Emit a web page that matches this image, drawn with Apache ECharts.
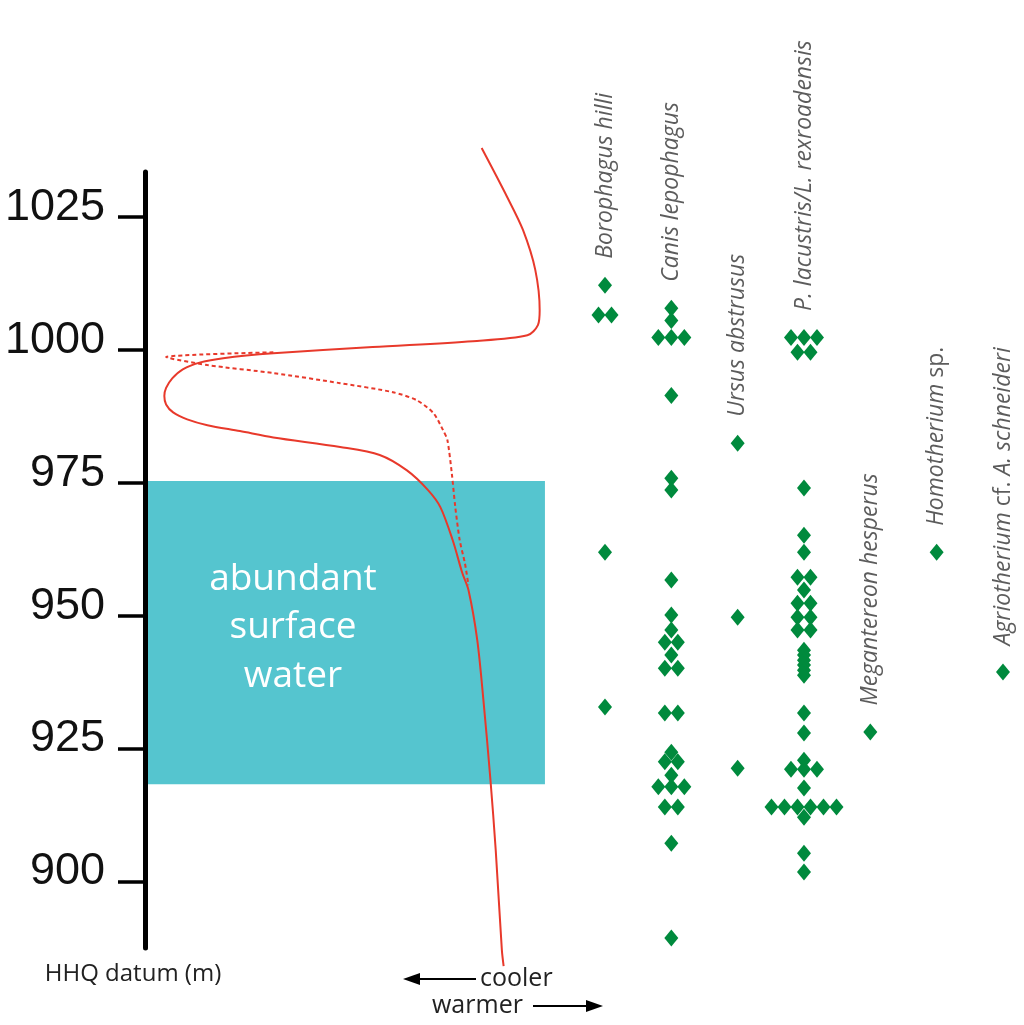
<!DOCTYPE html>
<html><head><meta charset="utf-8">
<script src="https://cdn.jsdelivr.net/npm/echarts@6/dist/echarts.min.js"></script>
<style>html,body{margin:0;padding:0;background:#fff}#c{width:1024px;height:1025px}</style>
</head><body><div id="c"></div>
<script>
// ---------- data ----------
const speciesNames = [
  'Borophagus hilli',
  'Canis lepophagus',
  'Ursus abstrusus',
  'P. lacustris/L. rexroadensis',
  'Megantereon hesperus',
  'Homotherium sp.',
  'Agriotherium cf. A. schneideri'
];
// specimen elevations (m, HHQ datum); repeated values = specimens at same level
const borophagusHilli = [1012.2, 1006.6, 1006.6, 962.0, 932.9];
const canisLepophagus = [1007.9, 1005.6, 1002.4, 1002.4, 1002.4, 991.5, 975.9, 973.7, 956.8, 950.2, 947.4,
  945.1, 945.1, 942.7, 940.2, 940.2, 931.8, 931.8, 924.4, 922.6, 922.6, 920.1, 917.9, 917.9, 917.9,
  914.1, 914.1, 907.3, 889.5];
const ursusAbstrusus = [982.5, 949.8, 921.4];
const pLacustris = [1002.4, 1002.4, 1002.4, 999.6, 999.6, 974.1, 965.2, 962.0, 957.3, 957.3, 954.9,
  952.4, 952.4, 949.8, 949.8, 947.4, 947.4, 943.6, 942.7, 941.7, 940.8, 939.8, 938.9, 931.8, 928.0,
  922.9, 921.2, 921.2, 921.2, 917.7, 914.1, 914.1, 914.1, 914.1, 914.1, 914.1, 912.2, 905.4, 901.9];
const megantereonHesperus = [928.2];
const homotheriumSp = [962.0];
const agriotherium = [939.5];
const speciesElevations = [borophagusHilli, canisLepophagus, ursusAbstrusus, pLacustris,
  megantereonHesperus, homotheriumSp, agriotherium];

const elevationTicks = [900, 925, 950, 975, 1000, 1025];

// relative temperature curve (arbitrary units, larger = warmer) vs elevation
const tempSolid = [[38.3,1038.0],[41.2,1028.8],[43.0,1022.6],[44.4,1015.1],[44.9,1007.5],[44.7,1004.7],
  [43.5,1002.8],[37.3,1001.7],[25.9,1000.6],[14.6,999.4],[8.9,998.5],[6.3,997.7],[4.3,996.4],[3.1,994.7],
  [2.4,992.9],[2.2,991.4],[2.4,989.8],[3.2,988.3],[4.8,987.0],[7.1,985.9],[10.8,984.8],[14.6,983.6],
  [22.2,981.8],[26.7,980.3],[29.8,977.4],[32.2,973.7],[33.6,970.5],
  [35.0,964.3],[36.1,958.1],[36.8,954.9],[37.8,945.5],[38.5,934.2],[39.3,919.2],[39.9,906.0],[40.6,887.2],
  [40.8,884.2]];
const tempDashed = [[14.6,999.6],[2.4,998.7],[7.1,997.2],[14.6,995.7],[22.2,993.8],[28.2,992.1],
  [30.9,990.6],[32.8,988.2],[33.9,985.0],[34.4,983.1],[34.9,976.9],[35.3,970.5],[35.8,964.3],
  [36.4,959.9],[36.8,955.8]];

// abundant surface water interval
const waterTop = 975.4, waterBottom = 918.4, waterWarmLimit = 45.5;

// ---------- build ----------
const STEP = 0.196;
const GREEN = '#008a3d', RED = '#e8392b';
const scatterData = [];
speciesElevations.forEach((elevs, col) => {
  const counts = {}, seen = {};
  elevs.forEach(e => counts[e] = (counts[e] || 0) + 1);
  elevs.forEach(e => {
    const n = counts[e], k = (seen[e] = (seen[e] || 0)); seen[e]++;
    scatterData.push([col + (k - (n - 1) / 2) * STEP, e]);
  });
});
const labelData = speciesElevations.map((elevs, col) => ({
  value: [col, Math.max(...elevs)], name: speciesNames[col]
}));
function fmtName(n) {
  if (n === 'Homotherium sp.') return 'Homotherium {r|sp.}';
  if (n.indexOf(' cf. ') > 0) return n.replace(' cf. ', ' {r|cf.} ');
  return n;
}

const chart = echarts.init(document.getElementById('c'), null, {renderer: 'canvas'});
chart.setOption({
  backgroundColor: '#ffffff',
  animation: false,
  grid: {left: 145, right: 0, top: 172, bottom: 77, containLabel: false, outerBoundsMode: 'none'},
  xAxis: [
    {type: 'value', min: -6.935, max: 6.317, show: false},
    {type: 'value', min: 0, max: 100, show: false}
  ],
  yAxis: {
    type: 'value', min: 887.6, max: 1033.5, z: 10,
    name: 'HHQ datum (m)', nameLocation: 'start', nameGap: 14,
    nameTextStyle: {fontFamily: 'Open Sans', fontSize: 24, color: '#222', padding: [0, 24, 0, 0]},
    axisLine: {show: true, onZero: false, lineStyle: {color: '#000', width: 5}},
    axisTick: {show: true, inside: false, length: 27, lineStyle: {color: '#000', width: 3.5}, customValues: elevationTicks},
    axisLabel: {show: true, margin: 40, fontFamily: 'Liberation Sans', fontSize: 45, color: '#111',
      verticalAlign: 'bottom', lineHeight: 20, formatter: v => String(v), customValues: elevationTicks},
    splitLine: {show: false}
  },
  series: [
    {
      type: 'line', xAxisIndex: 1, data: [], z: 1, silent: true,
      markArea: {
        silent: true,
        itemStyle: {color: '#55c5cf'},
        label: {show: true, position: 'inside', formatter: 'abundant\nsurface\nwater',
          color: '#fff', fontFamily: 'Open Sans', fontSize: 37, lineHeight: 48.5, offset: [-52, -5]},
        data: [[{coord: [0, waterTop]}, {coord: [waterWarmLimit, waterBottom]}]]
      }
    },
    {
      type: 'line', xAxisIndex: 1, data: tempDashed, z: 3, clip: false, smooth: 0.25,
      symbol: 'none', lineStyle: {color: RED, width: 2, type: [4, 3]}
    },
    {
      type: 'line', xAxisIndex: 1, data: tempSolid, z: 4, clip: false, smooth: 0.3,
      symbol: 'none', lineStyle: {color: RED, width: 2}
    },
    {
      type: 'scatter', xAxisIndex: 0, data: scatterData, z: 5,
      symbol: 'diamond', symbolSize: [14, 17], itemStyle: {color: GREEN, opacity: 1}
    },
    {
      type: 'scatter', xAxisIndex: 0, data: labelData, z: 6, symbolSize: 1,
      itemStyle: {color: 'rgba(0,0,0,0)'},
      label: {show: true, position: 'top', distance: 26, rotate: 90, align: 'left', verticalAlign: 'middle',
        formatter: p => fmtName(p.name),
        fontFamily: 'Open Sans', fontStyle: 'italic', fontSize: 23, color: '#333',
        rich: {r: {fontFamily: 'Open Sans', fontStyle: 'normal', fontSize: 23, color: '#333'}}}
    }
  ],
  graphic: [
    {type: 'text', x: 480, y: 979, style: {text: 'cooler', font: '25px "Open Sans"', fill: '#222', textVerticalAlign: 'middle'}},
    {type: 'text', x: 432, y: 1006, style: {text: 'warmer', font: '25px "Open Sans"', fill: '#222', textVerticalAlign: 'middle'}},
    {type: 'line', shape: {x1: 416, y1: 979, x2: 476, y2: 979}, style: {stroke: '#000', lineWidth: 2}},
    {type: 'polygon', shape: {points: [[403, 979], [420, 973], [420, 985]]}, style: {fill: '#000'}},
    {type: 'line', shape: {x1: 533, y1: 1006, x2: 590, y2: 1006}, style: {stroke: '#000', lineWidth: 2}},
    {type: 'polygon', shape: {points: [[603, 1006], [586, 1000], [586, 1012]]}, style: {fill: '#000'}}
  ]
});
</script></body></html>
